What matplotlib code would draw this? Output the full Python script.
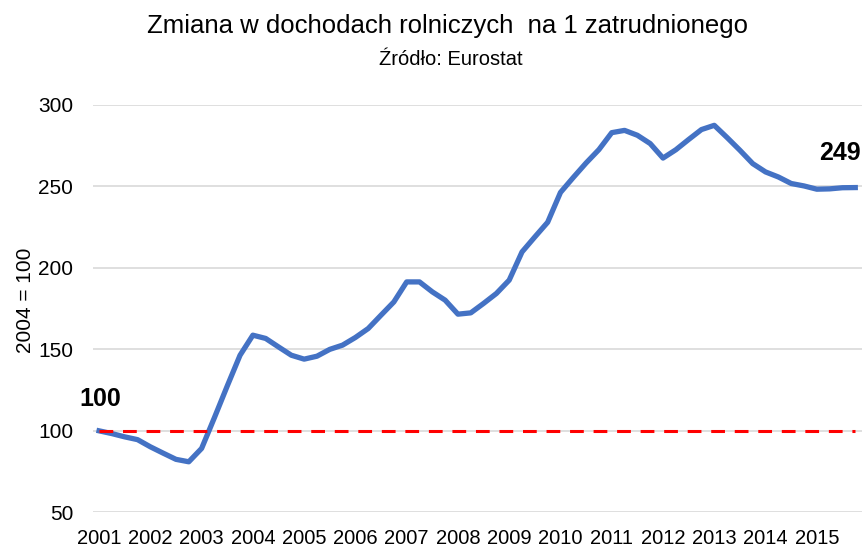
import matplotlib
matplotlib.use("Agg")
import matplotlib.pyplot as plt

# kwartalne wartosci indeksu (2004 = 100), 2001 Q1 - 2015 Q4
years = list(range(2001, 2016))
values = [100.0, 98.3, 96.3, 94.6, 90.2, 86.3, 82.5, 81.0,
          89.2, 108.1, 127.5, 146.4, 158.7, 156.7, 151.5, 146.4,
          144.0, 145.8, 150.0, 152.6, 157.3, 162.8, 171.0, 179.1,
          191.4, 191.4, 185.3, 180.2, 171.6, 172.4, 178.2, 184.3,
          192.5, 209.8, 219.0, 228.0, 246.3, 255.5, 264.4, 272.6,
          283.0, 284.4, 281.4, 276.3, 267.4, 272.5, 278.8, 284.9,
          287.5, 280.0, 272.2, 264.0, 258.9, 255.8, 251.8, 250.3,
          248.3, 248.5, 249.2, 249.3]
baseline = 100
title = "Zmiana w dochodach rolniczych  na 1 zatrudnionego"
subtitle = "Źródło: Eurostat"
ylabel = "2004 = 100"

plt.rcParams['font.family'] = ['Liberation Sans', 'DejaVu Sans']

fig = plt.figure(figsize=(8.66, 5.53), dpi=100)
ax = fig.add_axes([0.107, 0.0736, 0.888, 0.7366])

idx = list(range(len(values)))
ax.plot(idx, values, color='#4472C4', lw=3.8, solid_joinstyle='round', zorder=3)
ax.plot([idx[0], idx[-1]], [baseline, baseline], color='#FF0000', lw=2.2,
        dashes=(4.5, 3.2), zorder=4)

ax.set_xlim(-0.5, len(values) - 0.5)
ax.set_ylim(50, 300)
ax.set_yticks([50, 100, 150, 200, 250, 300])
ax.set_xticks(idx[::4])
ax.set_xticklabels([str(y) for y in years])
ax.tick_params(axis='both', length=0, labelsize=15, colors='#000000')
ax.tick_params(axis='x', labelsize=14.5, pad=12)
ax.tick_params(axis='y', pad=14)
ax.grid(axis='y', color='#D9D9D9', lw=1.2)
ax.set_axisbelow(True)
for s in ax.spines.values():
    s.set_visible(False)

ax.set_ylabel(ylabel, fontsize=15)
ax.yaxis.set_label_coords(-0.075, 0.52)

ax.annotate(f"{values[0]:.0f}", (idx[0], values[0]), xytext=(1, 14),
            textcoords='offset points', ha='center', va='bottom',
            fontsize=18, fontweight='bold')
ax.annotate(f"{values[-1]:.0f}", (idx[-1], values[-1]), xytext=(4, 16),
            textcoords='offset points', ha='right', va='bottom',
            fontsize=18, fontweight='bold')

fig.text(0.517, 0.953, title, ha='center', va='center', fontsize=18.5)
fig.text(0.52, 0.893, subtitle, ha='center', va='center', fontsize=14.5)

fig.savefig("out.png", dpi=100)
